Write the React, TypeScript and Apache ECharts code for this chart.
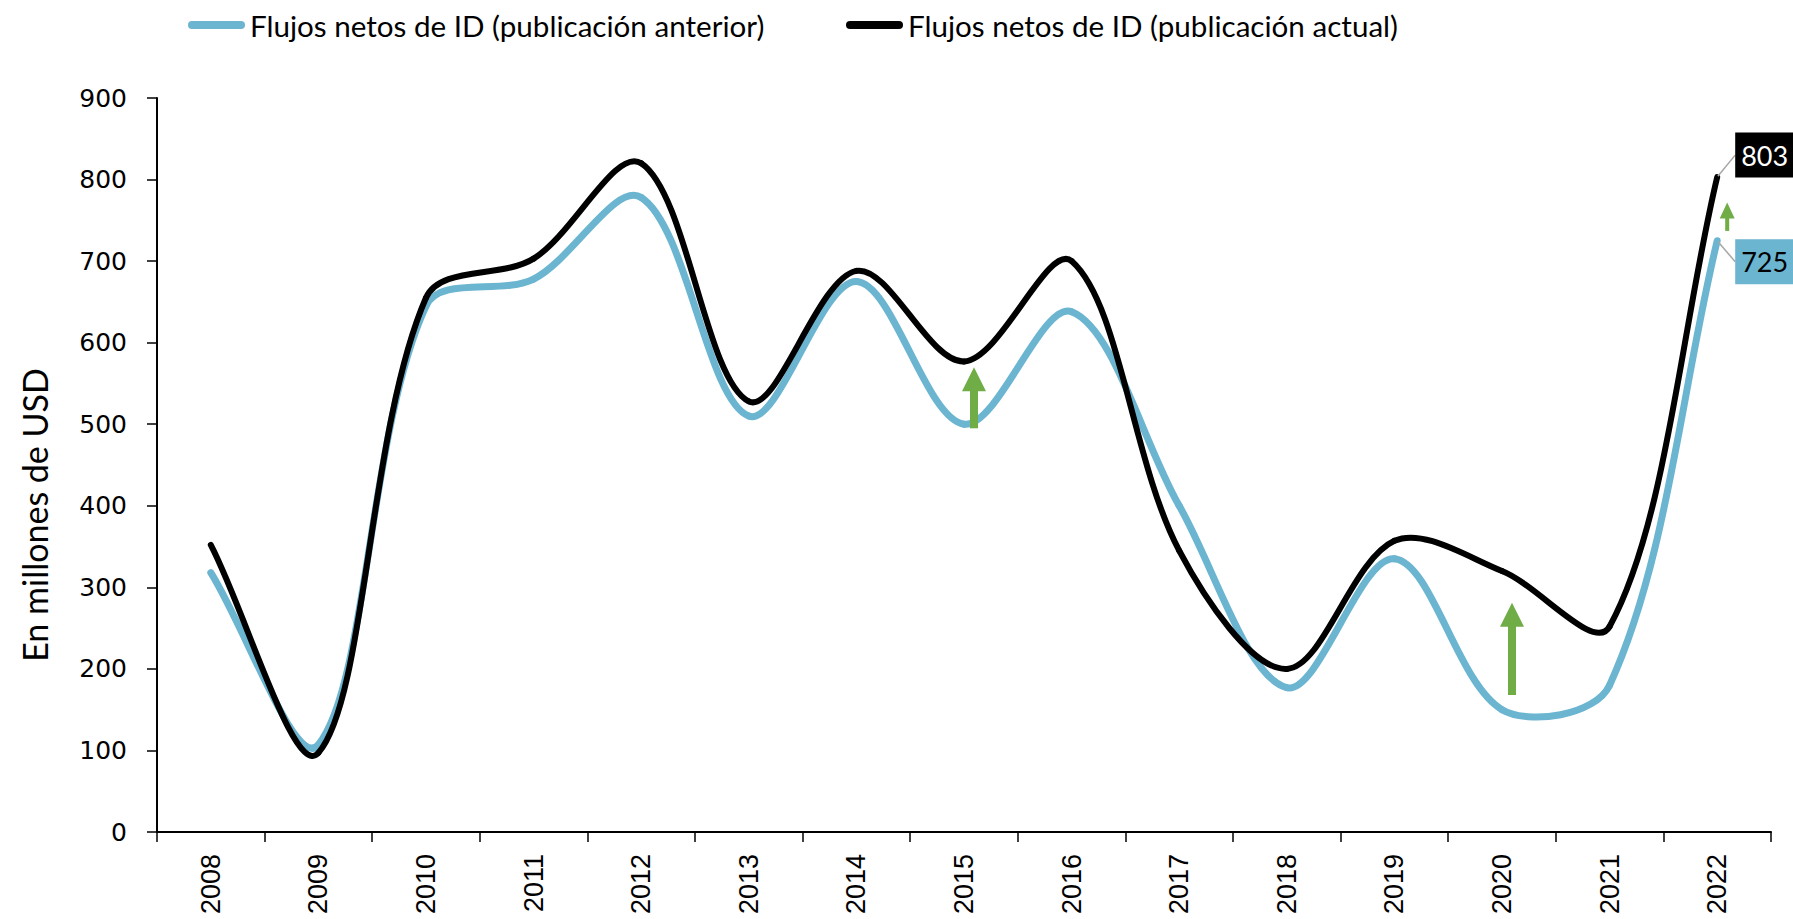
import React, { useEffect, useRef } from "react";
import * as echarts from "echarts";

const years = ["2008", "2009", "2010", "2011", "2012", "2013", "2014", "2015", "2016", "2017", "2018", "2019", "2020", "2021", "2022"];
const prevFlows = [318, 107, 645, 678, 778, 510, 675, 500, 638, 400, 177, 335, 150, 180, 725];
const currFlows = [352, 97, 655, 703, 820, 528, 688, 577, 700, 345, 200, 357, 320, 252, 803];
const prevName = "Flujos netos de ID (publicación anterior)";
const currName = "Flujos netos de ID (publicación actual)";
const arrowYears = ["2015", "2020", "2022"];
const arrowFrom = [495, 168, 737];
const arrowTo = [570, 281, 772];

const BLUE = "#6BB5D1";
const BLACK = "#000000";
const GREEN = "#70AD47";
const SANS = "Lato, 'Liberation Sans', sans-serif";
const arrowSizes = [
  { shaft: 8, headW: 24, headH: 24 },
  { shaft: 8, headW: 24, headH: 24 },
  { shaft: 4, headW: 15, headH: 16 },
];
const PILL = "path://M4,0 H53 A4,4 0 0 1 53,8 H4 A4,4 0 0 1 4,0 Z";

function dist(a: number[], b: number[]) {
  return Math.hypot(b[0] - a[0], b[1] - a[1]);
}

// Excel-like smoothing: Bezier segments with length-weighted tangents
function makeCurve(values: number[], color: string, width: number) {
  return (params: any, api: any) => {
    const i = params.dataIndex;
    const n = values.length;
    if (i >= n - 1) return null;
    const pt = (k: number) => api.coord([k, values[k]]);
    const p1 = pt(i);
    const p2 = pt(i + 1);
    const p0 = i > 0 ? pt(i - 1) : p1;
    const p3 = i + 2 < n ? pt(i + 2) : p2;
    const d01 = dist(p0, p1);
    const d12 = dist(p1, p2);
    const d23 = dist(p2, p3);
    const f1 = d12 / (d01 + d12) / 3;
    const f2 = d12 / (d12 + d23) / 3;
    return {
      type: "bezierCurve",
      shape: {
        x1: p1[0],
        y1: p1[1],
        x2: p2[0],
        y2: p2[1],
        cpx1: p1[0] + (p2[0] - p0[0]) * f1,
        cpy1: p1[1] + (p2[1] - p0[1]) * f1,
        cpx2: p2[0] - (p3[0] - p1[0]) * f2,
        cpy2: p2[1] - (p3[1] - p1[1]) * f2,
      },
      style: { stroke: color, lineWidth: width, fill: null, lineCap: "round" },
    };
  };
}

export default function App() {
  const ref = useRef<HTMLDivElement>(null);
  useEffect(() => {
    if (!ref.current) return;
    const chart = echarts.init(ref.current, undefined, { renderer: "svg" });
    const last = years.length - 1;
    const labelBase = {
      show: true,
      position: "right",
      distance: 5,
      fontFamily: SANS,
      fontSize: 27,
      opacity: 1,
      padding: [9, 6, 9, 6],
      formatter: (p: any) => String(p.value[1]),
    };
    const legendText = { fontFamily: SANS, fontSize: 29.6, color: "#000" };
    const option: any = {
      animation: false,
      backgroundColor: "#ffffff",
      grid: { left: 157, right: 22, top: 98, bottom: 87, containLabel: false },
      legend: [
        { data: [{ name: prevName, icon: PILL }], left: 183, top: 5, itemWidth: 57, itemHeight: 8, textStyle: legendText },
        { data: [{ name: currName, icon: PILL }], left: 841, top: 5, itemWidth: 57, itemHeight: 8, textStyle: legendText },
      ],
      xAxis: {
        type: "category",
        data: years,
        boundaryGap: true,
        axisLine: { show: true, lineStyle: { color: "#000", width: 2 } },
        axisTick: { show: true, length: 10, alignWithLabel: false, lineStyle: { color: "#000", width: 1.5 } },
        axisLabel: { rotate: 90, margin: 22, fontFamily: "'Liberation Sans', sans-serif", fontSize: 27, color: "#000" },
        splitLine: { show: false },
      },
      yAxis: {
        type: "value",
        min: 0,
        max: 900,
        interval: 100,
        name: "En millones de USD",
        nameLocation: "middle",
        nameRotate: 90,
        nameGap: 106,
        nameTextStyle: { fontFamily: SANS, fontSize: 34, color: "#000", padding: [0, 100, 0, 0] },
        axisLine: { show: true, lineStyle: { color: "#000", width: 2 } },
        axisTick: { show: true, length: 10, lineStyle: { color: "#000", width: 1.5 } },
        axisLabel: { margin: 30, fontFamily: "'DejaVu Sans', sans-serif", fontSize: 25, color: "#000" },
        splitLine: { show: false },
      },
      series: [
        {
          name: prevName,
          type: "custom",
          data: years.map((y, i) => [y, prevFlows[i]]),
          encode: { x: 0, y: 1 },
          itemStyle: { color: BLUE },
          renderItem: makeCurve(prevFlows, BLUE, 7),
          z: 2,
        },
        {
          name: currName,
          type: "custom",
          data: years.map((y, i) => [y, currFlows[i]]),
          encode: { x: 0, y: 1 },
          itemStyle: { color: BLACK },
          renderItem: makeCurve(currFlows, BLACK, 6),
          z: 3,
        },
        {
          name: "lbl-curr",
          type: "scatter",
          data: [[years[last], currFlows[last]]],
          symbolSize: 2,
          itemStyle: { color: BLACK },
          label: { ...labelBase, color: "#ffffff", backgroundColor: "#000000", borderColor: "#000000", borderWidth: 0 },
          labelLayout: { dx: 12, dy: -22 },
          labelLine: { show: true, lineStyle: { color: "#A6A6A6", width: 1.5, opacity: 1 } },
          emphasis: { disabled: true },
          z: 5,
        },
        {
          name: "lbl-prev",
          type: "scatter",
          data: [[years[last], prevFlows[last]]],
          symbolSize: 2,
          itemStyle: { color: BLUE },
          label: { ...labelBase, color: "#000000", backgroundColor: BLUE },
          labelLayout: { dx: 12, dy: 21 },
          labelLine: { show: true, lineStyle: { color: "#A6A6A6", width: 1.5, opacity: 1 } },
          emphasis: { disabled: true },
          z: 5,
        },
        {
          name: "arrows",
          type: "custom",
          data: arrowYears.map((y, i) => [y, arrowFrom[i], arrowTo[i]]),
          encode: { x: 0, y: [1, 2] },
          z: 6,
          renderItem: (params: any, api: any) => {
            const idx = api.value(0);
            const p0 = api.coord([idx, api.value(1)]);
            const p1 = api.coord([idx, api.value(2)]);
            const s = arrowSizes[params.dataIndex];
            const x = p0[0] + 10;
            const baseY = p1[1] + s.headH;
            return {
              type: "group",
              children: [
                {
                  type: "rect",
                  shape: { x: x - s.shaft / 2, y: baseY - 1, width: s.shaft, height: p0[1] - baseY + 1 },
                  style: { fill: GREEN },
                },
                {
                  type: "polygon",
                  shape: { points: [[x - s.headW / 2, baseY], [x, p1[1]], [x + s.headW / 2, baseY]] },
                  style: { fill: GREEN },
                },
              ],
            };
          },
        },
      ],
    };
    chart.setOption(option);
    return () => chart.dispose();
  }, []);
  return <div ref={ref} style={{ position: "absolute", left: 0, top: 0, width: 1793, height: 919 }} />;
}
